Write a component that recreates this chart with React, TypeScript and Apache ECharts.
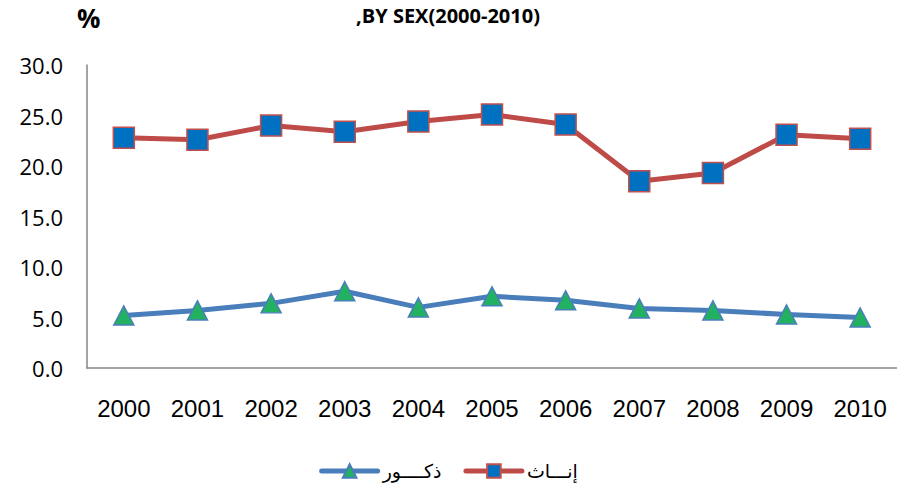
import React, { useEffect, useRef } from "react";
import * as echarts from "echarts";

const years = ["2000", "2001", "2002", "2003", "2004", "2005", "2006", "2007", "2008", "2009", "2010"];
const males = [5.2, 5.7, 6.4, 7.6, 6.0, 7.1, 6.7, 5.9, 5.7, 5.3, 5.0];
const females = [22.8, 22.6, 24.0, 23.4, 24.4, 25.1, 24.1, 18.5, 19.3, 23.1, 22.7];
const maleName = "ذكــــور";
const femaleName = "إنـــاث";
const titleText = ",BY SEX(2000-2010)";
const yUnit = "%";

export default function App() {
  const ref = useRef<HTMLDivElement>(null);
  useEffect(() => {
    if (!ref.current) return;
    const chart = echarts.init(ref.current, undefined, { renderer: "svg" });
    chart.setOption({
      animation: false,
      backgroundColor: "#ffffff",
      title: {
        text: titleText,
        left: 443,
        textAlign: "center",
        top: 0,
        textStyle: { fontFamily: "Open Sans", fontWeight: "bold", fontSize: 20, color: "#000" },
      },
      graphic: [
        {
          type: "text",
          left: 77,
          top: 5,
          style: { text: yUnit, font: "bold 26px 'Open Sans'", fill: "#000" },
        },
      ],
      legend: {
        top: 456,
        left: "center",
        itemWidth: 56,
        itemHeight: 17,
        itemGap: 22,
        padding: [2, 5, 2, 5],
        data: [maleName, femaleName],
        lineStyle: { width: 5, cap: "round" },
        textStyle: { fontFamily: "DejaVu Sans", fontSize: 19, lineHeight: 24, color: "#000", padding: [0, 0, 2, 0] },
      },
      grid: { left: 87, right: -3, top: 65, bottom: 115, containLabel: false },
      xAxis: {
        type: "category",
        data: years,
        boundaryGap: true,
        axisLine: { show: true, lineStyle: { color: "#868686", width: 1.5 } },
        axisTick: { show: false },
        axisLabel: { fontFamily: "Liberation Sans", fontSize: 24, color: "#000", margin: 28 },
      },
      yAxis: {
        type: "value",
        min: 0,
        max: 30,
        interval: 5,
        splitLine: { show: false },
        axisLine: { show: true, lineStyle: { color: "#868686", width: 1.5 } },
        axisTick: { show: false },
        axisLabel: {
          fontFamily: "Open Sans",
          fontSize: 22,
          color: "#000",
          margin: 24,
          formatter: (v: number) => v.toFixed(1),
        },
      },
      series: [
        {
          name: maleName,
          type: "line",
          data: males,
          symbol: "triangle",
          symbolSize: [20, 19],
          lineStyle: { color: "#4A7EBB", width: 5 },
          itemStyle: { color: "#22B061", borderColor: "#4A7EBB", borderWidth: 1.5 },
        },
        {
          name: femaleName,
          type: "line",
          data: females,
          symbol: "rect",
          symbolSize: 21,
          lineStyle: { color: "#BE4B48", width: 5 },
          itemStyle: { color: "#0070C0", borderColor: "#C0504D", borderWidth: 1.5 },
        },
      ],
    });
    return () => chart.dispose();
  }, []);
  return <div ref={ref} style={{ position: "fixed", left: 0, top: 0, width: 897, height: 483 }} />;
}
